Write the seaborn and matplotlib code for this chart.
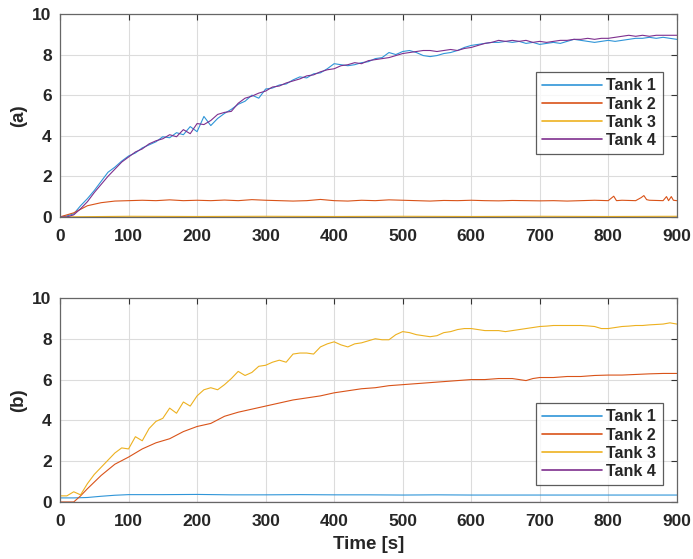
import numpy as np
import pandas as pd
import matplotlib
matplotlib.use("Agg")
import matplotlib.pyplot as plt
import seaborn as sns

# ---------------- data ----------------
tanks = ["Tank 1", "Tank 2", "Tank 3", "Tank 4"]
colors = ["#2f95d8", "#D95319", "#EDB120", "#7E2F8E"]
x_ticks = [0, 100, 200, 300, 400, 500, 600, 700, 800, 900]
y_ticks = [0, 2, 4, 6, 8, 10]

t10 = list(range(0, 901, 10))

# panel (a)
a_tank1 = [0.0, 0.05, 0.15, 0.55, 0.9, 1.3, 1.75, 2.2, 2.45, 2.75,
           3.0, 3.15, 3.4, 3.55, 3.7, 3.95, 3.9, 4.15, 4.05, 4.45,
           4.2, 4.95, 4.5, 4.85, 5.1, 5.3, 5.55, 5.7, 6.0, 5.85,
           6.3, 6.35, 6.5, 6.55, 6.75, 6.9, 6.85, 7.05, 7.1, 7.3,
           7.55, 7.5, 7.45, 7.5, 7.6, 7.65, 7.8, 7.85, 8.1, 8.0,
           8.15, 8.2, 8.1, 7.95, 7.9, 7.95, 8.05, 8.1, 8.2, 8.35,
           8.45, 8.5, 8.55, 8.6, 8.6, 8.65, 8.6, 8.65, 8.55, 8.6,
           8.5, 8.55, 8.6, 8.55, 8.65, 8.75, 8.7, 8.65, 8.6, 8.65,
           8.7, 8.65, 8.7, 8.75, 8.8, 8.8, 8.85, 8.8, 8.85, 8.8, 8.75]
a_tank4 = [0.0, 0.0, 0.1, 0.4, 0.75, 1.2, 1.6, 2.0, 2.35, 2.7,
           2.95, 3.2, 3.35, 3.6, 3.75, 3.85, 4.05, 3.95, 4.3, 4.1,
           4.6, 4.55, 4.75, 5.05, 5.15, 5.2, 5.6, 5.85, 5.95, 6.1,
           6.2, 6.4, 6.45, 6.6, 6.7, 6.8, 6.95, 7.0, 7.15, 7.25,
           7.3, 7.45, 7.5, 7.6, 7.55, 7.7, 7.75, 7.8, 7.85, 7.95,
           8.05, 8.1, 8.15, 8.2, 8.2, 8.15, 8.2, 8.25, 8.2, 8.3,
           8.35, 8.45, 8.55, 8.6, 8.7, 8.65, 8.7, 8.65, 8.7, 8.6,
           8.65, 8.6, 8.65, 8.7, 8.7, 8.75, 8.75, 8.8, 8.75, 8.8,
           8.8, 8.85, 8.9, 8.95, 8.9, 8.95, 8.9, 8.95, 8.95, 8.95, 8.95]
a_t2 = [0, 20, 40, 60, 80, 100, 120, 140, 160, 180, 200, 220, 240, 260, 280,
        300, 320, 340, 360, 380, 400, 420, 440, 460, 480, 500, 520, 540, 560,
        580, 600, 620, 640, 660, 680, 700, 720, 740, 760, 780, 800, 808, 812,
        820, 840, 848, 852, 856, 860, 880, 885, 888, 892, 895, 900]
a_tank2 = [0.0, 0.2, 0.55, 0.7, 0.78, 0.8, 0.82, 0.8, 0.84, 0.8, 0.82, 0.8,
           0.83, 0.8, 0.85, 0.82, 0.8, 0.78, 0.8, 0.86, 0.8, 0.78, 0.82, 0.8,
           0.84, 0.82, 0.8, 0.78, 0.81, 0.8, 0.82, 0.8, 0.79, 0.81, 0.8, 0.79,
           0.8, 0.78, 0.8, 0.82, 0.8, 1.02, 0.8, 0.82, 0.8, 0.95, 1.05, 0.85,
           0.82, 0.8, 1.0, 0.8, 1.0, 0.82, 0.8]
a_t3 = [0, 100, 200, 300, 400, 500, 600, 700, 800, 900]
a_tank3 = [0.0, 0.03, 0.02, 0.03, 0.02, 0.03, 0.02, 0.03, 0.02, 0.03]

# panel (b)
b_tank3 = [0.3, 0.3, 0.5, 0.35, 0.9, 1.35, 1.7, 2.05, 2.4, 2.65,
           2.6, 3.2, 3.0, 3.6, 3.95, 4.1, 4.6, 4.35, 4.9, 4.7,
           5.2, 5.5, 5.6, 5.5, 5.75, 6.05, 6.4, 6.2, 6.35, 6.65,
           6.7, 6.85, 6.95, 6.85, 7.25, 7.3, 7.3, 7.25, 7.6, 7.75,
           7.85, 7.7, 7.6, 7.75, 7.8, 7.9, 8.0, 7.95, 7.95, 8.2,
           8.35, 8.3, 8.2, 8.15, 8.1, 8.15, 8.3, 8.35, 8.45, 8.5,
           8.5, 8.45, 8.4, 8.4, 8.4, 8.35, 8.4, 8.45, 8.5, 8.55,
           8.6, 8.62, 8.65, 8.65, 8.65, 8.65, 8.65, 8.63, 8.6, 8.5,
           8.5, 8.55, 8.6, 8.62, 8.65, 8.65, 8.68, 8.7, 8.72, 8.78, 8.72]
b_t2 = [0, 20, 30, 40, 60, 80, 100, 120, 140, 160, 180, 200, 220, 240, 260,
        280, 300, 320, 340, 360, 380, 400, 420, 440, 460, 480, 500, 520, 540,
        560, 580, 600, 620, 640, 660, 680, 690, 700, 720, 740, 760, 780, 800,
        820, 840, 860, 880, 900]
b_tank2 = [0.0, 0.0, 0.3, 0.65, 1.3, 1.85, 2.2, 2.6, 2.9, 3.1, 3.45, 3.7,
           3.85, 4.2, 4.4, 4.55, 4.7, 4.85, 5.0, 5.1, 5.2, 5.35, 5.45, 5.55,
           5.6, 5.7, 5.75, 5.8, 5.85, 5.9, 5.95, 6.0, 6.0, 6.05, 6.05, 5.95,
           6.05, 6.1, 6.1, 6.15, 6.15, 6.2, 6.22, 6.22, 6.25, 6.28, 6.3, 6.3]
b_t1 = [0, 20, 40, 60, 80, 100, 150, 200, 250, 300, 350, 400, 450, 500, 550,
        600, 650, 700, 750, 800, 850, 900]
b_tank1 = [0.2, 0.2, 0.22, 0.28, 0.33, 0.36, 0.36, 0.37, 0.35, 0.35, 0.36,
           0.35, 0.35, 0.34, 0.35, 0.34, 0.34, 0.34, 0.34, 0.34, 0.34, 0.34]
b_t4 = [0, 300, 600, 900]
b_tank4 = [0.01, 0.01, 0.01, 0.01]


def frame(pairs):
    parts = []
    for name, t, v in pairs:
        parts.append(pd.DataFrame({"Time": t, "Level": v, "Tank": name}))
    return pd.concat(parts, ignore_index=True)


df_a = frame([("Tank 1", t10, a_tank1), ("Tank 2", a_t2, a_tank2),
              ("Tank 3", a_t3, a_tank3), ("Tank 4", t10, a_tank4)])
df_b = frame([("Tank 1", b_t1, b_tank1), ("Tank 2", b_t2, b_tank2),
              ("Tank 3", t10, b_tank3), ("Tank 4", b_t4, b_tank4)])

# ---------------- figure ----------------
sns.set_theme(style="white")
plt.rcParams["font.family"] = ["Liberation Sans", "DejaVu Sans"]
plt.rcParams["font.weight"] = "bold"

fig = plt.figure(figsize=(6.93, 5.59), dpi=100)
ax_a = fig.add_axes([0.0866, 0.612, 0.890, 0.363])
ax_b = fig.add_axes([0.0866, 0.102, 0.890, 0.365])

palette = dict(zip(tanks, colors))

for ax, df, label, anchor_y in [
        (ax_a, df_a, "(a)", 0.714),
        (ax_b, df_b, "(b)", 0.485)]:
    sns.lineplot(data=df, x="Time", y="Level", hue="Tank", hue_order=tanks,
                 palette=palette, estimator=None, sort=False, linewidth=0.8,
                 ax=ax, legend=False)
    ax.set_xlim(0, 900)
    ax.set_ylim(0, 10)
    ax.set_xticks(x_ticks)
    ax.set_yticks(y_ticks)
    ax.grid(True, color="#dcdcdc", linewidth=0.8)
    ax.set_axisbelow(True)
    ax.tick_params(direction="in", top=True, right=True, length=4,
                   width=0.8, color="#333333", labelsize=12.5,
                   labelcolor="#262626")
    ax.tick_params(axis="x", pad=9)
    ax.tick_params(axis="y", pad=6)
    for lab in ax.get_xticklabels() + ax.get_yticklabels():
        lab.set_fontweight("bold")
    for sp in ax.spines.values():
        sp.set_color("#666666")
        sp.set_linewidth(0.9)
    ax.set_ylabel(label, fontsize=13.5, fontweight="bold", color="#262626",
                  labelpad=4)
    ax.set_xlabel("")
    handles = [plt.Line2D([], [], color=c, linewidth=1.2) for c in colors]
    leg = ax.legend(handles, tanks, loc="upper right",
                    bbox_to_anchor=(0.977, anchor_y), frameon=True,
                    fancybox=False, edgecolor="#333333", handlelength=3.7,
                    prop={"weight": "bold", "size": 11.5}, borderpad=0.4,
                    labelspacing=0.2, handletextpad=0.3, borderaxespad=0)
    leg.get_frame().set_linewidth(0.9)

ax_b.set_xlabel("Time [s]", fontsize=13.5, fontweight="bold", color="#262626",
                labelpad=5)

fig.savefig("out.png", dpi=100, facecolor="white")
